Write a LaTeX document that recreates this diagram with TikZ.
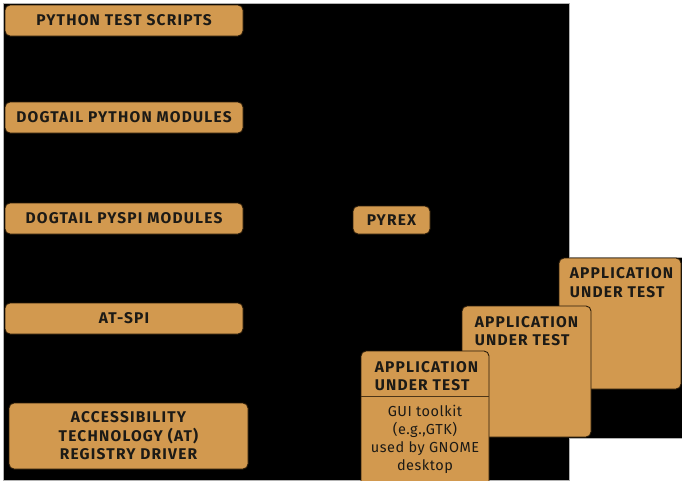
\documentclass[tikz,border=0pt]{standalone}
\usepackage{fontspec}
\setmainfont{Fira Sans}
\newfontfamily\titlefont[LetterSpace=7.8]{Fira Sans}
\newfontfamily\bodyfont[LetterSpace=3.5]{Fira Sans}
\begin{document}
\begin{tikzpicture}[x=1pt,y=-1pt,
  box/.style={draw=boxline, line width=0.9pt, fill=boxfill, rounded corners=5pt, inner sep=0pt},
  ttl/.style={text=txt, font=\titlefont\bfseries\fontsize{15.5}{18.5}\selectfont, inner sep=0pt, align=center},
  apptl/.style={text=txt, font=\titlefont\bfseries\fontsize{15.5}{18.5}\selectfont, inner sep=0pt, align=left, anchor=north west},
  body/.style={text=txt, font=\bodyfont\fontsize{14.5}{18}\selectfont, inner sep=0pt, align=center}]
\definecolor{boxfill}{HTML}{D2994F}
\definecolor{boxline}{HTML}{2A1C0A}
\definecolor{txt}{HTML}{1C1A16}
\clip (0,0) rectangle (682,480);
\fill[white] (0,0) rectangle (682,480);
\fill[black, draw=gray!60, line width=0.6pt] (3,3) -- (569,3) -- (569,257) -- (682,257) -- (682,438) -- (569,438) -- (569,480) -- (3,480) -- cycle;
% left column
\node[box, minimum width=238pt, minimum height=31pt] (scripts) at (124,20.5) {};
\node[ttl] (scriptsT) at (scripts.center) {PYTHON TEST SCRIPTS};
\node[box, minimum width=238pt, minimum height=31pt] (pymods) at (124,117.5) {};
\node[ttl] (pymodsT) at (pymods.center) {DOGTAIL PYTHON MODULES};
\node[box, minimum width=238pt, minimum height=31pt] (pyspi) at (124,218.5) {};
\node[ttl] (pyspiT) at (pyspi.center) {DOGTAIL PYSPI MODULES};
\node[box, minimum width=238pt, minimum height=31pt] (atspi) at (124,318.5) {};
\node[ttl] (atspiT) at (atspi.center) {AT-SPI};
\node[box, minimum width=239pt, minimum height=66pt] (atreg) at (128.5,436) {};
\node[ttl] (atregT) at (atreg.center) {ACCESSIBILITY\\TECHNOLOGY (AT)\\REGISTRY DRIVER};
% pyrex
\node[box, minimum width=77pt, minimum height=28pt] (pyrex) at (391.5,220) {};
\node[ttl] (pyrexT) at (pyrex.center) {PYREX};
% application stack
\node[box, minimum width=122pt, minimum height=131pt] (app3) at (620,323.5) {};
\node[apptl] (app3T) at ([xshift=11pt,yshift=-10pt]app3.north west) {APPLICATION\\UNDER TEST};
\node[box, minimum width=129pt, minimum height=131pt] (app2) at (526.5,371.5) {};
\node[apptl] (app2T) at ([xshift=13pt,yshift=-10.5pt]app2.north west) {APPLICATION\\UNDER TEST};
\node[box, minimum width=128pt, minimum height=150pt] (app1) at (425,426) {};
\node[apptl] (app1T) at ([xshift=14pt,yshift=-10.5pt]app1.north west) {APPLICATION\\UNDER TEST};
\coordinate (divL) at ([yshift=-46pt]app1.north west);
\coordinate (divR) at ([yshift=-46pt]app1.north east);
\draw[draw=boxline!80!boxfill, line width=1.6pt] (divL) -- (divR);
\node[body] (app1B) at (425,439) {GUI toolkit\\(e.g.,GTK)\\used by GNOME\\desktop};
\end{tikzpicture}
\end{document}
